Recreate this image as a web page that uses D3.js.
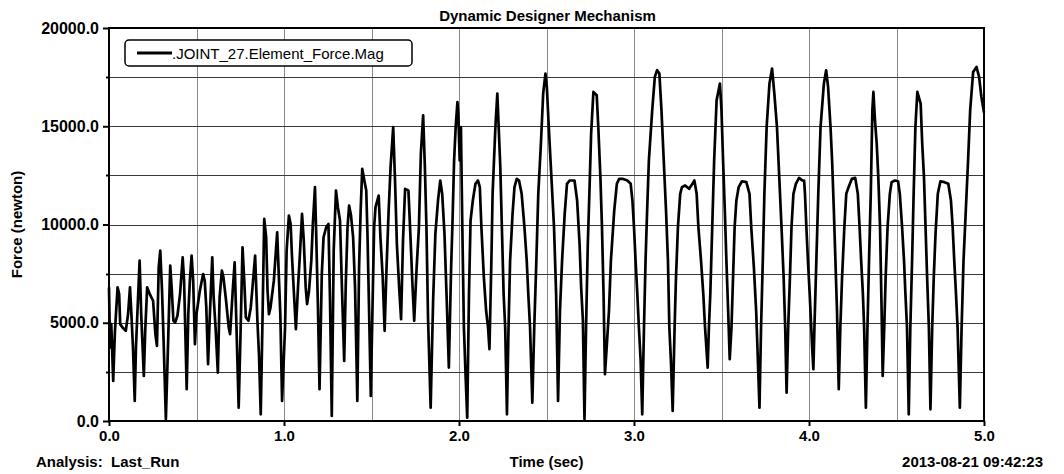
<!DOCTYPE html>
<html>
<head>
<meta charset="utf-8">
<script src="https://cdn.jsdelivr.net/npm/d3@7"></script>
<style>
  html, body { margin: 0; padding: 0; background: #fff; }
  svg { display: block; }
  text { font-family: "Liberation Sans", Arial, sans-serif; fill: #000; }
</style>
</head>
<body>
<svg id="chart" width="1064" height="474"></svg>
<script>
// ---------------- data ----------------
const chartTitle = "Dynamic Designer Mechanism";
const seriesName = ".JOINT_27.Element_Force.Mag";
const xLabel = "Time (sec)";
const yLabel = "Force (newton)";
const footerLeft = "Analysis:  Last_Run";
const footerRight = "2013-08-21 09:42:23";

const xTickValues = [0, 1, 2, 3, 4, 5];
const xGridValues = [0.5, 1, 1.5, 2, 2.5, 3, 3.5, 4, 4.5];
const yTickValues = [0, 5000, 10000, 15000, 20000];
const yGridValues = [2500, 5000, 7500, 10000, 12500, 15000, 17500];

const time = [
  0.000, 0.006, 0.013, 0.024, 0.034, 0.049, 0.058, 0.064, 0.077, 0.096,
  0.109, 0.120, 0.128, 0.137, 0.147, 0.154, 0.162, 0.175, 0.184, 0.199,
  0.207, 0.218, 0.233, 0.252, 0.265, 0.274, 0.284, 0.293, 0.303, 0.312,
  0.325, 0.338, 0.350, 0.359, 0.368, 0.378, 0.391, 0.406, 0.421, 0.429,
  0.436, 0.444, 0.453, 0.462, 0.472, 0.481, 0.491, 0.500, 0.519, 0.538,
  0.547, 0.556, 0.566, 0.575, 0.590, 0.598, 0.609, 0.622, 0.632, 0.645,
  0.654, 0.669, 0.684, 0.692, 0.707, 0.718, 0.729, 0.741, 0.752, 0.763,
  0.773, 0.782, 0.797, 0.810, 0.820, 0.835, 0.848, 0.857, 0.867, 0.876,
  0.887, 0.898, 0.906, 0.914, 0.923, 0.942, 0.961, 0.970, 0.979, 0.989,
  1.006, 1.015, 1.028, 1.038, 1.045, 1.056, 1.068, 1.081, 1.090, 1.103,
  1.113, 1.124, 1.132, 1.143, 1.156, 1.165, 1.177, 1.184, 1.194, 1.203,
  1.216, 1.226, 1.241, 1.254, 1.263, 1.273, 1.284, 1.297, 1.308, 1.320,
  1.331, 1.344, 1.353, 1.363, 1.372, 1.383, 1.395, 1.406, 1.419, 1.429,
  1.438, 1.447, 1.459, 1.470, 1.477, 1.485, 1.496, 1.508, 1.515, 1.523,
  1.541, 1.551, 1.564, 1.575, 1.586, 1.598, 1.609, 1.624, 1.635, 1.645,
  1.658, 1.669, 1.680, 1.692, 1.711, 1.722, 1.733, 1.744, 1.758, 1.771,
  1.782, 1.795, 1.805, 1.814, 1.823, 1.838, 1.852, 1.865, 1.880, 1.893,
  1.904, 1.917, 1.930, 1.942, 1.955, 1.962, 1.972, 1.981, 1.991, 1.996,
  2.004, 2.011, 2.019, 2.028, 2.038, 2.047, 2.057, 2.066, 2.079, 2.094,
  2.108, 2.119, 2.128, 2.142, 2.155, 2.166, 2.174, 2.185, 2.192, 2.208,
  2.219, 2.226, 2.236, 2.245, 2.255, 2.264, 2.274, 2.283, 2.292, 2.306,
  2.317, 2.330, 2.343, 2.358, 2.374, 2.387, 2.396, 2.406, 2.419, 2.430,
  2.442, 2.453, 2.468, 2.481, 2.494, 2.502, 2.513, 2.528, 2.543, 2.555,
  2.566, 2.577, 2.589, 2.604, 2.617, 2.632, 2.660, 2.675, 2.689, 2.698,
  2.708, 2.717, 2.726, 2.736, 2.745, 2.755, 2.768, 2.787, 2.796, 2.808,
  2.817, 2.826, 2.834, 2.845, 2.857, 2.868, 2.887, 2.902, 2.915, 2.934,
  2.962, 2.981, 2.991, 3.000, 3.009, 3.019, 3.028, 3.038, 3.047, 3.057,
  3.066, 3.075, 3.085, 3.104, 3.119, 3.132, 3.145, 3.157, 3.170, 3.183,
  3.194, 3.202, 3.211, 3.221, 3.232, 3.240, 3.251, 3.264, 3.274, 3.292,
  3.315, 3.334, 3.345, 3.358, 3.368, 3.383, 3.396, 3.406, 3.421, 3.428,
  3.436, 3.447, 3.458, 3.472, 3.491, 3.500, 3.509, 3.519, 3.528, 3.538,
  3.547, 3.557, 3.566, 3.575, 3.585, 3.598, 3.617, 3.642, 3.660, 3.670,
  3.685, 3.698, 3.708, 3.717, 3.726, 3.736, 3.745, 3.758, 3.774, 3.789,
  3.802, 3.817, 3.830, 3.843, 3.855, 3.864, 3.872, 3.881, 3.891, 3.900,
  3.911, 3.925, 3.943, 3.962, 3.972, 3.977, 3.985, 3.994, 4.004, 4.011,
  4.019, 4.025, 4.032, 4.042, 4.053, 4.066, 4.085, 4.098, 4.109, 4.123,
  4.132, 4.142, 4.151, 4.160, 4.170, 4.179, 4.189, 4.202, 4.213, 4.226,
  4.245, 4.264, 4.279, 4.289, 4.298, 4.308, 4.315, 4.325, 4.334, 4.343,
  4.353, 4.362, 4.368, 4.377, 4.387, 4.396, 4.406, 4.415, 4.421, 4.430,
  4.438, 4.449, 4.462, 4.472, 4.491, 4.509, 4.519, 4.532, 4.543, 4.551,
  4.560, 4.570, 4.579, 4.589, 4.598, 4.608, 4.619, 4.638, 4.647, 4.657,
  4.666, 4.675, 4.685, 4.694, 4.704, 4.713, 4.723, 4.736, 4.751, 4.774,
  4.796, 4.811, 4.821, 4.830, 4.840, 4.849, 4.862, 4.872, 4.883, 4.896,
  4.909, 4.921, 4.938, 4.957, 4.972, 4.985, 5.000
];

const force = [
  6800, 3740, 4930, 2040, 4590, 6800, 6460, 4930, 4760, 4590,
  5440, 6800, 5440, 3740, 1020, 3740, 5440, 8160, 5440, 2295,
  4590, 6800, 6460, 6120, 4420, 3825, 7820, 8670, 6630, 4080,
  85, 4080, 7905, 6630, 5100, 5015, 5355, 6460, 8330, 7140,
  4590, 1615, 5440, 7140, 8415, 7140, 3910, 5440, 6630, 7480,
  7140, 5780, 2890, 5100, 8330, 6290, 4760, 2465, 6290, 7650,
  7310, 6120, 4760, 4420, 6630, 8075, 4590, 680, 4590, 8840,
  7140, 5270, 5100, 5780, 6800, 8415, 5100, 3400, 340, 4590,
  10285, 9350, 6630, 5440, 5780, 7140, 9605, 7480, 5440, 1020,
  4760, 8670, 10455, 10030, 8500, 6630, 4675, 6970, 8330, 10540,
  9180, 6800, 5950, 6630, 8160, 10030, 11900, 9520, 5780, 1615,
  7480, 9350, 9860, 10030, 6120, 255, 8670, 11730, 10880, 10200,
  6800, 3060, 6970, 9860, 10965, 10455, 9350, 6800, 1020, 7820,
  10710, 12835, 12240, 11730, 9520, 6120, 1275, 6800, 9860, 10880,
  11475, 9350, 7310, 4590, 7820, 10710, 12920, 14960, 12070, 9010,
  6800, 5185, 9180, 11815, 11730, 9520, 7140, 5100, 7820, 9860,
  13600, 15555, 12920, 9860, 5270, 680, 6120, 9520, 11220, 12240,
  11560, 9520, 6120, 2720, 7820, 9860, 13260, 14960, 16235, 15640,
  13260, 14960, 9860, 4760, 2210, 170, 6460, 10200, 11220, 12070,
  12240, 11900, 9860, 7310, 5610, 4760, 3655, 8160, 11560, 14960,
  16660, 15130, 12920, 9860, 6460, 4760, 340, 4760, 8160, 10540,
  11900, 12325, 12240, 11560, 9860, 8160, 6460, 4760, 935, 4760,
  8160, 11560, 14110, 16660, 17680, 17000, 14960, 12410, 9860, 6460,
  1020, 5610, 8160, 10540, 12070, 12240, 12240, 11220, 9010, 6800,
  5100, 85, 4760, 9010, 11560, 14620, 16745, 16575, 14960, 12410,
  9860, 6460, 2380, 3910, 5610, 8160, 10710, 12070, 12325, 12325,
  12240, 12070, 11220, 9860, 8160, 6460, 4760, 3060, 340, 4760,
  8160, 10710, 13260, 15810, 17510, 17850, 17680, 15810, 13260, 10710,
  8160, 4760, 3060, 510, 4760, 7310, 9860, 11560, 11900, 11985,
  11815, 12070, 12240, 11560, 9860, 8160, 6460, 4760, 2720, 4760,
  6460, 9860, 13260, 16320, 17170, 15810, 13260, 10710, 8160, 5610,
  3145, 4760, 7310, 9860, 11220, 11900, 12200, 12155, 11560, 9860,
  7820, 5610, 3060, 680, 4760, 8160, 11560, 14960, 17170, 17935,
  16660, 14960, 12410, 9860, 7310, 4760, 1445, 4760, 7310, 9860,
  11560, 12070, 12375, 12240, 12240, 11560, 9860, 8160, 6460, 5100,
  3570, 2635, 5100, 8160, 11560, 14960, 17170, 17850, 17000, 14960,
  13260, 10710, 8160, 5610, 1615, 4760, 7310, 9860, 11560, 11900,
  12325, 12375, 11560, 9860, 8160, 6460, 4760, 680, 4760, 8160,
  11560, 15810, 16745, 15300, 14110, 12410, 9860, 5610, 2295, 4760,
  7310, 9860, 11560, 12155, 12240, 12200, 11560, 9860, 8160, 6460,
  4760, 340, 4760, 8160, 11560, 14960, 16745, 16150, 14110, 12410,
  9860, 7310, 4760, 595, 4760, 7310, 9520, 11560, 12200, 12155,
  12070, 11220, 9860, 8160, 6460, 4760, 680, 4760, 8160, 10710,
  13260, 15810, 17765, 18020, 17510, 16500, 15700
];

// ---------------- layout ----------------
const plot = { left: 109, right: 984, top: 28, bottom: 421 };

const svg = d3.select("#chart");

const x = d3.scaleLinear().domain([0, 5]).range([plot.left, plot.right]);
const y = d3.scaleLinear().domain([0, 20000]).range([plot.bottom, plot.top]);

// grid
svg.append("g").selectAll("line").data(xGridValues).join("line")
  .attr("x1", d => Math.round(x(d)) + 0.5).attr("x2", d => Math.round(x(d)) + 0.5)
  .attr("y1", plot.top).attr("y2", plot.bottom)
  .attr("stroke", "#8a8a8a").attr("stroke-width", 1);
svg.append("g").selectAll("line").data(yGridValues).join("line")
  .attr("x1", plot.left).attr("x2", plot.right)
  .attr("y1", d => Math.round(y(d)) + 0.5).attr("y2", d => Math.round(y(d)) + 0.5)
  .attr("stroke", "#3a3a3a").attr("stroke-width", 1);

// series line
const pts = time.map((t, i) => [t, force[i]]);
const line = d3.line().x(d => x(d[0])).y(d => y(d[1]));
svg.append("path")
  .datum(pts)
  .attr("d", line)
  .attr("fill", "none")
  .attr("stroke", "#000")
  .attr("stroke-width", 2.7)
  .attr("stroke-linejoin", "round");

// frame
svg.append("rect")
  .attr("x", plot.left).attr("y", plot.top)
  .attr("width", plot.right - plot.left).attr("height", plot.bottom - plot.top)
  .attr("fill", "none").attr("stroke", "#000").attr("stroke-width", 2);

// axes
const xAxis = d3.axisBottom(x).tickValues(xTickValues).tickFormat(d3.format(".1f")).tickSize(5).tickPadding(4);
const gx = svg.append("g").attr("transform", `translate(0,${plot.bottom})`).call(xAxis);
gx.select(".domain").remove();
gx.selectAll(".tick line").attr("stroke", "#000").attr("stroke-width", 2);
gx.selectAll(".tick text").attr("font-size", 15).attr("font-weight", "bold")
  .attr("font-family", "Liberation Sans, Arial, sans-serif").attr("fill", "#000");

const yAxis = d3.axisLeft(y).tickValues(yTickValues).tickFormat(d3.format(".1f")).tickSize(6).tickPadding(4);
const gy = svg.append("g").attr("transform", `translate(${plot.left},0)`).call(yAxis);
gy.select(".domain").remove();
gy.selectAll(".tick line").attr("stroke", "#000").attr("stroke-width", 2);
gy.selectAll(".tick text").attr("font-size", 16).attr("font-weight", "bold")
  .attr("font-family", "Liberation Sans, Arial, sans-serif").attr("fill", "#000");

// minor y ticks
svg.append("g").selectAll("line").data(yGridValues.filter(d => d % 5000 !== 0)).join("line")
  .attr("x1", plot.left - 3).attr("x2", plot.left)
  .attr("y1", d => Math.round(y(d)) + 0.5).attr("y2", d => Math.round(y(d)) + 0.5)
  .attr("stroke", "#000").attr("stroke-width", 2);

// title
svg.append("text").attr("x", (plot.left + plot.right) / 2 + 1).attr("y", 21)
  .attr("text-anchor", "middle").attr("font-size", 15).attr("font-weight", "bold")
  .text(chartTitle);

// y label
svg.append("text")
  .attr("transform", `translate(22,${(plot.top + plot.bottom) / 2}) rotate(-90)`)
  .attr("text-anchor", "middle").attr("font-size", 15).attr("font-weight", "bold")
  .text(yLabel);

// footer
svg.append("text").attr("x", (plot.left + plot.right) / 2).attr("y", 467)
  .attr("text-anchor", "middle").attr("font-size", 15).attr("font-weight", "bold").text(xLabel);
svg.append("text").attr("x", 36).attr("y", 467)
  .attr("font-size", 15).attr("font-weight", "bold").attr("xml:space", "preserve")
  .style("white-space", "pre").text(footerLeft);
svg.append("text").attr("x", 1043).attr("y", 467).attr("text-anchor", "end")
  .attr("font-size", 15).attr("font-weight", "bold").text(footerRight);

// legend
const lg = svg.append("g");
lg.append("rect").attr("x", 125).attr("y", 40).attr("width", 287).attr("height", 26)
  .attr("rx", 4).attr("ry", 4).attr("fill", "#fff").attr("stroke", "#000").attr("stroke-width", 1.5);
lg.append("line").attr("x1", 137).attr("x2", 172).attr("y1", 53).attr("y2", 53)
  .attr("stroke", "#000").attr("stroke-width", 3);
lg.append("text").attr("x", 172).attr("y", 58.5).attr("font-size", 15)
  .text(seriesName);
</script>
</body>
</html>
